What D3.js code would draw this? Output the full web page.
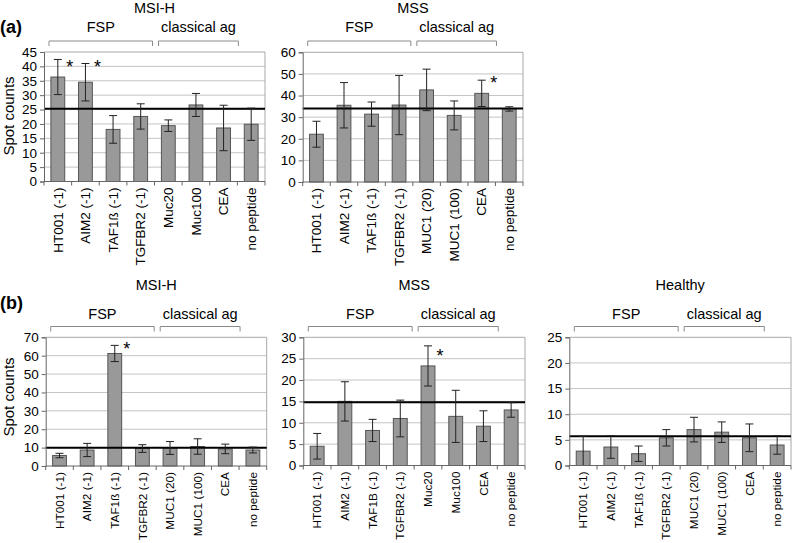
<!DOCTYPE html>
<html><head><meta charset="utf-8">
<script src="https://cdn.jsdelivr.net/npm/d3@7"></script>
<style>
body{margin:0;background:#fff;}
svg{font-family:"Liberation Sans",Arial,sans-serif;}
</style></head>
<body>
<script>
// ---------- DATA ----------
const catsA1 = ["HT001 (-1)","AIM2 (-1)","TAF1ß (-1)","TGFBR2 (-1)","Muc20","Muc100","CEA","no peptide"];
const catsMuc1 = ["HT001 (-1)","AIM2 (-1)","TAF1ß (-1)","TGFBR2 (-1)","MUC1 (20)","MUC1 (100)","CEA","no peptide"];
const catsB2 = ["HT001 (-1)","AIM2 (-1)","TAF1B (-1)","TGFBR2 (-1)","Muc20","Muc100","CEA","no peptide"];

const valsA1 = [36.3,34.5,18.1,22.6,19.4,26.6,18.6,19.9];
const errsA1 = [6.1,6.5,4.8,4.4,2.0,4.0,7.9,5.6];
const refA1 = 25.3;
const ticksA1 = [0,5,10,15,20,25,30,35,40,45];

const valsA2 = [22.1,35.5,31.4,35.6,42.6,30.8,41.0,33.8];
const errsA2 = [6.0,10.5,5.6,13.7,9.6,6.7,6.1,1.0];
const refA2 = 34.0;
const ticksA2 = [0,10,20,30,40,50,60];

const valsB1 = [5.7,8.7,61.2,9.5,9.8,10.6,9.3,8.7];
const errsB1 = [1.2,3.6,4.4,2.1,3.5,4.2,2.6,1.6];
const refB1 = 9.9;
const ticksB1 = [0,10,20,30,40,50,60,70];

const valsB2 = [4.5,15.0,8.2,11.0,23.3,11.5,9.2,13.0];
const errsB2 = [3.0,4.6,2.6,4.3,4.7,6.1,3.6,1.7];
const refB2 = 14.8;
const ticksB2 = [0,5,10,15,20,25,30];

const valsB3 = [2.8,3.6,2.3,5.4,7.0,6.5,5.4,4.0];
const errsB3 = [2.9,2.2,1.5,1.6,2.4,2.0,2.7,1.8];
const refB3 = 5.7;
const ticksB3 = [0,5,10,15,20,25];

const groupLabels = ["FSP","classical ag"];
const titles = ["MSI-H","MSS","MSI-H","MSS","Healthy"];
const rowLabels = ["(a)","(b)"];
const yTitle = "Spot counts";
// asterisks: [category index, y value (data units) of star centre]
const starsA1 = [[0,41],[1,41]];
const starsA2 = [[6,47.2]];
const starsB1 = [[2,65.1]];
const starsB2 = [[4,26.4]];
const starsB3 = [];

// ---------- LAYOUT ----------
const W = 793, H = 543;
const svg = d3.select("body").append("svg").attr("width",W).attr("height",H);

const panels = [
  {cats:catsA1, vals:valsA1, errs:errsA1, ref:refA1, ticks:ticksA1, stars:starsA1, title:titles[0],
   box:[44,265,52,181.5], titleY:13, bracketY:41, glabelY:32, yLabel:true, yLabelY:116, catFont:13.5},
  {cats:catsMuc1, vals:valsA2, errs:errsA2, ref:refA2, ticks:ticksA2, stars:starsA2, title:titles[1],
   box:[302.7,523,52.3,182], titleY:13, bracketY:41, glabelY:32, yLabel:false, catFont:13.5},
  {cats:catsMuc1, vals:valsB1, errs:errsB1, ref:refB1, ticks:ticksB1, stars:starsB1, title:titles[2],
   box:[45.7,266.7,337.3,466], titleY:290, bracketY:326.5, glabelY:319, yLabel:true, yLabelY:397, catFont:11.8},
  {cats:catsB2, vals:valsB2, errs:errsB2, ref:refB2, ticks:ticksB2, stars:starsB2, title:titles[3],
   box:[303.3,525,337.3,465.5], titleY:290, bracketY:326.5, glabelY:319, yLabel:false, catFont:11.8},
  {cats:catsMuc1, vals:valsB3, errs:errsB3, ref:refB3, ticks:ticksB3, stars:starsB3, title:titles[4],
   box:[569.3,791,337.3,465.5], titleY:290, bracketY:326.5, glabelY:319, yLabel:false, catFont:11.8}
];

svg.append("text").attr("x",0).attr("y",33).attr("font-size",18).attr("font-weight","bold").text(rowLabels[0]);
svg.append("text").attr("x",0).attr("y",309).attr("font-size",18).attr("font-weight","bold").text(rowLabels[1]);

panels.forEach(p => {
  const [x0,x1,y0,y1] = p.box;
  const g = svg.append("g");
  const x = d3.scaleBand().domain(p.cats).range([x0,x1]).paddingInner(0.5).paddingOuter(0.25);
  const y = d3.scaleLinear().domain([0, d3.max(p.ticks)]).range([y1,y0]);
  const step = x.step();
  const edge = i => x(p.cats[0]) - step*0.25 + i*step;

  // gridlines
  g.selectAll(".grid").data(p.ticks.filter(t=>t>0)).join("line")
    .attr("x1",x0).attr("x2",x1).attr("y1",d=>y(d)).attr("y2",d=>y(d))
    .attr("stroke",(d,i,a)=> i===a.length-1 ? "#a8a8a8" : "#c4c4c4").attr("stroke-width",1);
  // right border
  g.append("line").attr("x1",x1).attr("x2",x1).attr("y1",y0).attr("y2",y1).attr("stroke","#a8a8a8");

  // bars
  g.selectAll(".bar").data(p.vals).join("rect")
    .attr("x",(d,i)=>x(p.cats[i])).attr("width",x.bandwidth())
    .attr("y",d=>y(d)).attr("height",d=>y1-y(d))
    .attr("fill","#999999").attr("stroke","#555555").attr("stroke-width",1);

  // reference line
  g.append("line").attr("x1",x0).attr("x2",x1).attr("y1",y(p.ref)).attr("y2",y(p.ref))
    .attr("stroke","#000").attr("stroke-width",2);

  // error bars
  const cx = i => x(p.cats[i]) + x.bandwidth()/2;
  const eb = g.selectAll(".eb").data(p.vals).join("g");
  eb.append("line").attr("x1",(d,i)=>cx(i)).attr("x2",(d,i)=>cx(i))
    .attr("y1",(d,i)=>y(d+p.errs[i])).attr("y2",(d,i)=>y(Math.max(0,d-p.errs[i])))
    .attr("stroke","#222").attr("stroke-width",1);
  eb.append("line").attr("x1",(d,i)=>cx(i)-4).attr("x2",(d,i)=>cx(i)+4)
    .attr("y1",(d,i)=>y(d+p.errs[i])).attr("y2",(d,i)=>y(d+p.errs[i]))
    .attr("stroke","#222").attr("stroke-width",1);
  eb.append("line").attr("x1",(d,i)=>cx(i)-4).attr("x2",(d,i)=>cx(i)+4)
    .attr("y1",(d,i)=>y(Math.max(0,d-p.errs[i]))).attr("y2",(d,i)=>y(Math.max(0,d-p.errs[i])))
    .attr("stroke","#222").attr("stroke-width",1);

  // y axis
  const ya = g.append("g").attr("transform",`translate(${x0},0)`)
    .call(d3.axisLeft(y).tickValues(p.ticks).tickSize(4).tickPadding(3).tickFormat(d3.format("d")));
  ya.select(".domain").attr("stroke","#666");
  ya.selectAll(".tick line").attr("stroke","#666");
  ya.selectAll("text").attr("font-size",13.5).attr("fill","#000").attr("font-family","Liberation Sans, Arial, sans-serif");

  // x axis
  g.append("line").attr("x1",x0).attr("x2",x1).attr("y1",y1).attr("y2",y1).attr("stroke","#666");
  g.selectAll(".xt").data(d3.range(p.cats.length+1)).join("line")
    .attr("x1",i=>edge(i)).attr("x2",i=>edge(i)).attr("y1",y1).attr("y2",y1+4).attr("stroke","#666");
  const xa = g.append("g").attr("transform",`translate(0,${y1})`)
    .call(d3.axisBottom(x).tickSize(0));
  xa.select(".domain").remove();
  xa.selectAll("text").attr("transform","rotate(-90)").attr("x",-6).attr("y",0).attr("dy","0.35em")
    .attr("text-anchor","end").attr("font-size",p.catFont).attr("fill","#000")
    .attr("font-family","Liberation Sans, Arial, sans-serif");

  // stars
  g.selectAll(".star").data(p.stars).join("text")
    .attr("x",d=>cx(d[0])+12).attr("y",d=>y(d[1])+9)
    .attr("text-anchor","middle").attr("font-size",18).text("*");

  // brackets
  const groups = [[edge(0)+5, edge(4)-2], [edge(4)+4, edge(7)+1]];
  groups.forEach((gr,k) => {
    g.append("path").attr("d",`M${gr[0]},${p.bracketY+5}V${p.bracketY}H${gr[1]}V${p.bracketY+5}`)
      .attr("fill","none").attr("stroke","#8a8a8a").attr("stroke-width",1);
    g.append("text").attr("x",(gr[0]+gr[1])/2).attr("y",p.glabelY).attr("text-anchor","middle")
      .attr("font-size",14.5).text(groupLabels[k]);
  });

  // title
  g.append("text").attr("x",(x0+x1)/2).attr("y",p.titleY).attr("text-anchor","middle")
    .attr("font-size",14.5).text(p.title);

  if (p.yLabel) {
    g.append("text").attr("transform",`translate(14,${p.yLabelY}) rotate(-90)`)
      .attr("text-anchor","middle").attr("font-size",15).text(yTitle);
  }
});
</script>
</body></html>
